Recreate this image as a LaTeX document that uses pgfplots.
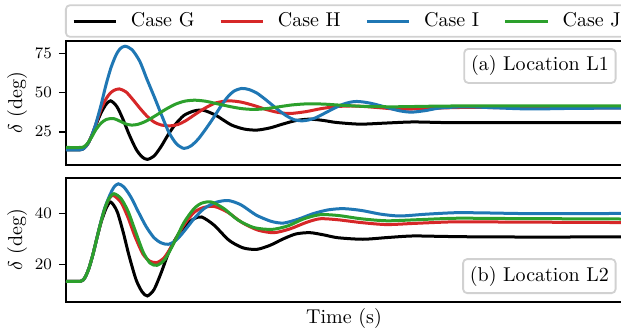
\documentclass[border=0pt]{standalone}
\usepackage{pgfplots}
\pgfplotsset{compat=1.18}
\definecolor{tabred}{HTML}{D62728}
\definecolor{tabblue}{HTML}{1F77B4}
\definecolor{tabgreen}{HTML}{2CA02C}
\definecolor{framegray}{gray}{0.82}
\tikzset{
  boxlabel/.style={draw=framegray, line width=0.9pt, rounded corners=2pt, fill=white,
    font=\fontsize{10}{12}\selectfont, inner xsep=3.4pt, inner ysep=3.5pt,
    text height=7.5pt, text depth=2.5pt},
}
\pgfplotsset{
  myaxis/.style={
    scale only axis, width=278pt, height=62pt,
    xmin=0, xmax=556,
    xtick=\empty,
    tick align=outside, ytick pos=left,
    major tick length=3.5pt,
    every tick/.style={black, line width=0.8pt},
    axis line style={black, line width=0.8pt},
    tick label style={font=\fontsize{8}{9}\selectfont},
    label style={font=\fontsize{10}{12}\selectfont},
    every axis plot/.append style={line width=1.5pt, smooth, tension=0.45},
    every axis y label/.style={at={(rel axis cs:-0.088,0.5)}, rotate=90, anchor=center},
    ylabel={$\delta$ (deg)},
    clip=true,
  },
}
\begin{document}
\begin{tikzpicture}
%% ---------------- top panel ----------------
\begin{axis}[myaxis, name=top, at={(0,0)}, anchor=south west,
  ymin=3.8, ymax=83, ytick={25,50,75},
  legend columns=4,
  legend image code/.code={\draw[#1] (0pt,0pt) -- (21.15pt,0pt);},
  legend style={at={(0,1)}, anchor=south west, yshift=1.65pt, xshift=-0.5pt,
    draw=framegray, line width=0.9pt, rounded corners=2pt,
    inner xsep=3.1pt, inner ysep=3.6pt,
    font=\fontsize{10}{12}\selectfont,
    nodes={inner sep=0pt, text height=7pt, text depth=1.6pt},
    /tikz/every odd column/.append style={column sep=6.75pt},
    /tikz/every even column/.append style={column sep=12.3pt}},
  legend cell align=left]
\addplot[black] coordinates {(0,13.5) (14,13.5) (18,14.5) (22,17.5) (26,23) (30,29.5) (35,37) (40,42.5) (44.7,44.8) (51,41) (57,33) (63,23.5) (70,14) (76,9) (81.3,7.4) (88,9.5) (95,15.5) (102,23) (109,29.5) (118,35.5) (128,38.3) (137.3,38.8) (150,35.5) (165,29.5) (178,26.8) (190.7,26.1) (204,27.5) (217,30) (230,32.2) (244,33.1) (258,32.2) (270,31) (294,29.9) (320,30.6) (347,31.3) (380,30.9) (430,30.8) (556,30.8)};
\addlegendentry{Case G}
\addplot[tabred] coordinates {(0,14) (14,14) (18,14.8) (22,17.5) (26,23) (30,30) (35,39.5) (40,46) (44,49.5) (48,51.5) (53.3,52.4) (60,50.5) (67,45.5) (74,40) (81,35) (88,31.3) (95,29.4) (104,28.8) (112,29.7) (120,32.2) (130,36.5) (140,40.5) (150,43.5) (162.3,44.8) (175,44) (188,41.8) (200,39.3) (212,37.4) (224,36.7) (240,37.9) (255,39.8) (270,41.1) (285,41.5) (300,41.1) (315,40.3) (335,39.4) (360,39.9) (400,40.6) (450,40.4) (556,40.3)};
\addlegendentry{Case H}
\addplot[tabblue] coordinates {(0,13.5) (14,13.5) (18,14.5) (22,17.5) (26,23) (30,30.5) (35,42) (40,55) (45,66) (50,74) (54,78) (59,79.7) (66,77.5) (73.8,70) (81,58.5) (88.5,47) (96,35) (103,24.5) (110.5,17.3) (118,14.4) (125,16) (132.4,20.5) (140,27) (147,33.5) (154,40.5) (161.3,47) (168,51) (175.7,52.7) (183,52) (190.7,49.8) (198,46.4) (205.7,42.4) (213,38.6) (220.7,35.1) (228,32.8) (235.7,32) (242,32.5) (249.4,33.9) (256,36) (263.2,38.4) (270,40.6) (277,42.6) (284,43.9) (290.7,44.4) (298,44) (305,43.2) (312,42.1) (319,40.9) (326,39.6) (333,38.5) (340,37.8) (347,37.6) (360,38.6) (374,40.2) (400,41) (430,40.3) (464,39.6) (510,40) (556,40.1)};
\addlegendentry{Case I}
\addplot[tabgreen] coordinates {(0,15) (14,15) (18,15.5) (22,18) (26,22) (30,26.5) (35,30.5) (40,32.8) (47.3,33.5) (55,31.5) (60,30) (65.7,29.3) (72,29.8) (80,31.8) (90,35.5) (100,39.5) (110,42.8) (119,44.6) (129,45.2) (140,44.5) (152,42.8) (165,41) (176,39.8) (188,39.3) (200,39.8) (212,40.9) (225,42.1) (236,42.7) (244,42.9) (258,42.7) (275,42) (300,41.2) (330,41) (370,41.4) (420,41.6) (556,41.5)};
\addlegendentry{Case J}
\node[boxlabel, anchor=north east] at ([xshift=-2.75pt,yshift=-3.5pt]rel axis cs:1,1) {(a) Location L1};
\end{axis}
%% ---------------- bottom panel ----------------
\begin{axis}[myaxis, name=bot, at={(0,-68.5pt)}, anchor=south west,
  ymin=5.1, ymax=54.1, ytick={20,40},
  xlabel={Time (s)},
  every axis x label/.style={at={(rel axis cs:0.5,-0.129)}, anchor=center}]
\addplot[black] coordinates {(0,13.3) (14.7,13.3) (19,14.8) (23,18.5) (27,24) (31,30.5) (35,36.5) (40,42) (44.7,44.6) (51,41) (57,33) (63,23.5) (70,14) (76,9.2) (81.3,7.5) (88,10) (95,16.5) (103,25) (111,31) (120,35.5) (128,38) (135.7,38.7) (148,35.5) (163,29.5) (177,26.5) (190.7,25.9) (204,27.5) (217,30) (230,32) (244,32.5) (258,31.6) (272,30.5) (297,29.9) (322,30.6) (347,31.2) (380,31) (430,30.8) (556,30.8)};
\addplot[tabred] coordinates {(0,13.3) (14.7,13.3) (19,14.8) (23,18.5) (27,24) (31,30.5) (35,36.8) (39,42.2) (43,45.8) (47,47.3) (55,44.5) (62,38.5) (69,31) (77,24) (84,21.2) (90.7,20.7) (98,22.5) (107,28) (117,35) (128,40.5) (138,42.5) (149,42.8) (162,40.5) (176,36.5) (192,33.5) (208,32.5) (224,34) (240,36.5) (254,38) (272,37.6) (295,36.5) (320.7,35.7) (350,36.2) (390,36.8) (440,36.7) (556,36.5)};
\addplot[tabblue] coordinates {(0,13.3) (14.7,13.3) (19,14.8) (23,18.5) (27,24) (31,30.5) (35,37) (39,42.5) (44,47.5) (48,50.5) (52.3,51.8) (58,50.5) (65,46.5) (72,41) (80,35) (88,30.5) (95,28.5) (102.3,27.9) (110,29.5) (118,33) (128,38) (138,42) (150,44.5) (162.3,45.2) (175,43.5) (190,39.5) (205,37) (217.3,36.3) (232,37.8) (247,40) (262,41.5) (277.3,42) (295,41.3) (315,39.8) (334,39.1) (360,39.8) (390,40.4) (420,40.3) (470,40) (556,40.1)};
\addplot[tabgreen] coordinates {(0,13.3) (14.7,13.3) (19,14.8) (23,18.5) (27,24) (31,30.5) (35,36.8) (39,42.3) (43,46) (48,47.9) (55,46) (62,41) (69,33.5) (77,25) (84,20.5) (91,19.6) (99,22) (108,28.5) (118,36.5) (128,42) (136,44.2) (145.7,44.6) (158,42) (172,37.5) (188,34.5) (206,33.8) (222,35.2) (238,38) (254,39.6) (272,39.3) (295,38) (320.7,37.2) (350,37.6) (390,38.2) (440,38.1) (556,37.9)};
\node[boxlabel, anchor=south east] at ([xshift=-2.75pt,yshift=4pt]rel axis cs:1,0) {(b) Location L2};
\end{axis}
\pgfresetboundingbox
\path[use as bounding box] (-33pt,-82pt) rectangle (277.5pt,82.5pt);
\end{tikzpicture}
\end{document}
